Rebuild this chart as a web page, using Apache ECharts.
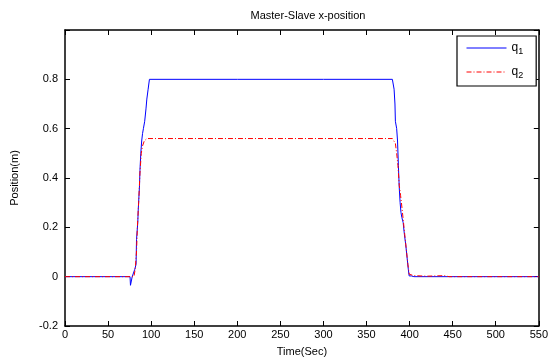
<!DOCTYPE html>
<html>
<head>
<meta charset="utf-8">
<script src="https://cdn.jsdelivr.net/npm/echarts@6/dist/echarts.min.js"></script>
<style>html,body{margin:0;padding:0;background:#fff}#c{width:551px;height:362px}</style>
</head>
<body>
<div id="c"></div>
<script>
// Time (Sec) and position values
const q1Time = [0, 75.5, 76, 77.5, 78, 79.5, 81, 82.5, 83, 84.5, 85, 86.5, 87, 88, 89, 90, 91, 92.5, 94, 95, 96.5, 98, 200, 300, 380, 381.5, 382, 383, 383.5, 385, 386, 387, 388, 389, 390, 391, 392.5, 394, 395.5, 397, 398.5, 399.5, 402, 405, 550];
const q1Pos  = [0, 0, -0.035, -0.035, 0, 0, 0.03, 0.05, 0.15, 0.22, 0.27, 0.37, 0.43, 0.5, 0.55, 0.58, 0.6, 0.63, 0.68, 0.72, 0.76, 0.8, 0.8, 0.8, 0.8, 0.8, 0.76, 0.7, 0.63, 0.6, 0.55, 0.45, 0.36, 0.3, 0.26, 0.24, 0.22, 0.17, 0.13, 0.08, 0.03, 0.003, 0.003, 0, 0];
const q2Time = [0, 80, 81.5, 83, 84, 85.5, 87, 88.5, 90, 92, 95, 200, 300, 380, 382, 383.5, 385, 386.5, 388, 389.5, 390.5, 392, 393.5, 395, 396.5, 398, 399.5, 405, 420, 440, 446, 550];
const q2Pos  = [0, 0, 0.03, 0.1, 0.2, 0.3, 0.42, 0.5, 0.53, 0.55, 0.56, 0.56, 0.56, 0.56, 0.555, 0.54, 0.5, 0.45, 0.37, 0.33, 0.3, 0.25, 0.2, 0.15, 0.1, 0.05, 0.01, 0.004, 0.002, 0.004, 0, 0];
const xTicks = {min: 0, max: 550, interval: 50};
const yTicks = {min: -0.2, max: 1.0, interval: 0.2};
const seriesNames = ['q1', 'q2'];

const zip = (a, b) => a.map((t, i) => [t, b[i]]);
const font = 'Liberation Sans, Arial, sans-serif';

const chart = echarts.init(document.getElementById('c'), null, {renderer: 'canvas'});
const axisCommon = {
  axisLine: {show: true, onZero: false, lineStyle: {color: '#000', width: 1.5}},
  axisTick: {show: true, inside: true, length: 5, lineStyle: {color: '#000', width: 1}},
  splitLine: {show: false}
};
chart.setOption({
  backgroundColor: '#fff',
  animation: false,
  title: {
    text: 'Master-Slave x-position',
    left: 303, top: 5, textAlign: 'center',
    textStyle: {fontFamily: font, fontSize: 11, fontWeight: 'normal', color: '#000'}
  },
  grid: {left: 65, right: 10, top: 30, bottom: 31},
  legend: {
    data: seriesNames,
    orient: 'vertical',
    left: 457, top: 36,
    padding: [6, 13, 6, 9],
    itemGap: 10,
    itemWidth: 40, itemHeight: 12,
    borderColor: '#000', borderWidth: 1.2,
    backgroundColor: '#fff',
    itemStyle: {opacity: 0, borderWidth: 0},
    lineStyle: {width: 1},
    formatter: n => '{q|q}{s|' + n.slice(1) + '}',
    textStyle: {
      fontFamily: font, color: '#000',
      rich: {
        q: {fontFamily: font, fontSize: 12, color: '#000'},
        s: {fontFamily: font, fontSize: 9, color: '#000', padding: [7, 0, 0, 0]}
      }
    }
  },
  xAxis: [
    Object.assign({}, axisCommon, {
      type: 'value', position: 'bottom', min: xTicks.min, max: xTicks.max, interval: xTicks.interval,
      name: 'Time(Sec)', nameLocation: 'middle', nameGap: 20,
      nameTextStyle: {fontFamily: font, fontSize: 11, color: '#000'},
      axisLabel: {fontFamily: font, fontSize: 11, color: '#000', margin: 3}
    }),
    Object.assign({}, axisCommon, {
      type: 'value', position: 'top', min: xTicks.min, max: xTicks.max, interval: xTicks.interval,
      axisLabel: {show: false}
    })
  ],
  yAxis: [
    Object.assign({}, axisCommon, {
      type: 'value', position: 'left', min: yTicks.min, max: yTicks.max, interval: yTicks.interval,
      name: 'Position(m)', nameLocation: 'middle', nameGap: 45,
      nameTextStyle: {fontFamily: font, fontSize: 11, color: '#000'},
      axisLabel: {fontFamily: font, fontSize: 11, color: '#000', margin: 7,
        formatter: v => (Math.abs(v - 1) < 1e-9 ? '' : String(Math.round(v * 10) / 10))}
    }),
    Object.assign({}, axisCommon, {
      type: 'value', position: 'right', min: yTicks.min, max: yTicks.max, interval: yTicks.interval,
      axisLabel: {show: false}
    })
  ],
  series: [
    {
      name: seriesNames[0], type: 'line', data: zip(q1Time, q1Pos), symbol: 'none',
      xAxisIndex: 0, yAxisIndex: 0,
      itemStyle: {color: '#0000ff'},
      lineStyle: {color: '#0000ff', width: 1}
    },
    {
      name: seriesNames[1], type: 'line', data: zip(q2Time, q2Pos), symbol: 'none',
      xAxisIndex: 0, yAxisIndex: 0,
      itemStyle: {color: '#ff0000'},
      lineStyle: {color: '#ff0000', width: 1, type: [5, 2, 1, 2]}
    }
  ]
});
</script>
</body>
</html>
